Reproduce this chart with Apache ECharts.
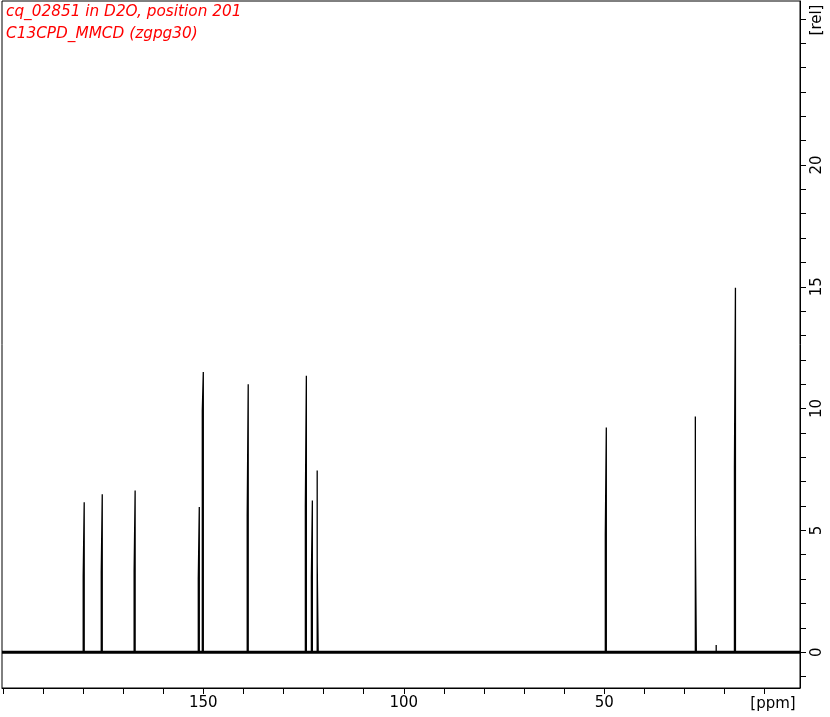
<!DOCTYPE html>
<html>
<head>
<meta charset="utf-8">
<script src="https://cdn.jsdelivr.net/npm/echarts@6/dist/echarts.min.js"></script>
<style>html,body{margin:0;padding:0;background:#fff;}#c{width:830px;height:717px;}</style>
</head>
<body>
<div id="c"></div>
<script>
// ---- data ----
const titleLines = ['cq_02851 in D2O, position 201', 'C13CPD_MMCD (zgpg30)'];
const peakPpm        = [179.7, 175.2, 167.0, 151.0, 150.0, 138.8, 124.3, 122.8, 121.6, 49.5, 27.3, 22.1, 17.3];
const peakHeight     = [6.15, 6.48, 6.64, 5.96, 11.5, 11.0, 11.35, 6.23, 7.46, 9.22, 9.67, 0.29, 14.96];
const shoulderHeight = [3.1, 3.3, 3.34, 3.0, 9.9, 5.6, 5.96, 3.07, 3.7, 4.8, 5.04, 0, 7.62];
const shoulderSide   = [1, 1, 1, 1, 1, 1, 1, 1, -1, 1, -1, 0, 1]; // 1: shoulder on high-ppm side, -1: low-ppm side
const xTickValues  = [10, 20, 30, 40, 50, 60, 70, 80, 90, 100, 110, 120, 130, 140, 150, 160, 170, 180, 190, 200];
const xLabelValues = [50, 100, 150];
const yTickValues  = [-1, 0, 1, 2, 3, 4, 5, 6, 7, 8, 9, 10, 11, 12, 13, 14, 15, 16, 17, 18, 19, 20, 21, 22, 23, 24, 25, 26];
const yLabelValues = [0, 5, 10, 15, 20];
const ppmRange = [1.2, 200.2];
const relRange = [-1.47, 26.73];

// ---- build spectrum line ----
const d = 0.25;
const spectrum = [[ppmRange[1], 0]];
peakPpm.forEach((p, i) => {
  const h = peakHeight[i], s = shoulderHeight[i], side = shoulderSide[i];
  if (side === 1) {
    spectrum.push([p + d, 0], [p + d, s], [p, s], [p, h], [p, 0]);
  } else if (side === -1) {
    spectrum.push([p, 0], [p, h], [p, s], [p - d, s], [p - d, 0]);
  } else {
    spectrum.push([p, 0], [p, h], [p, 0]);
  }
});
spectrum.push([ppmRange[0], 0]);

const FONT = 'DejaVu Sans';
const chart = echarts.init(document.getElementById('c'), null, {renderer: 'canvas'});
chart.setOption({
  animation: false,
  backgroundColor: '#fff',
  grid: {left: 2, right: 30, top: 1, bottom: 29, show: true, borderColor: '#000', borderWidth: 1, backgroundColor: 'transparent'},
  xAxis: {
    type: 'value', inverse: true, min: ppmRange[0], max: ppmRange[1], position: 'bottom',
    axisLine: {show: true, onZero: false, lineStyle: {color: '#000', width: 1}},
    axisTick: {show: true, inside: false, length: 6, customValues: xTickValues, lineStyle: {color: '#000'}},
    axisLabel: {show: true, customValues: xLabelValues, margin: 8, color: '#000', fontFamily: FONT, fontSize: 15},
    splitLine: {show: false}
  },
  yAxis: {
    type: 'value', min: relRange[0], max: relRange[1], position: 'right',
    axisLine: {show: true, onZero: false, lineStyle: {color: '#000', width: 1}},
    axisTick: {show: true, inside: false, length: 6, customValues: yTickValues, lineStyle: {color: '#000'}},
    axisLabel: {show: true, customValues: yLabelValues, rotate: 90, margin: 10, color: '#000', fontFamily: FONT, fontSize: 15},
    splitLine: {show: false}
  },
  series: [
    {type: 'line', data: [[ppmRange[1], 0], [ppmRange[0], 0]], showSymbol: false, silent: true,
     lineStyle: {color: '#000', width: 3}, z: 2},
    {type: 'line', data: spectrum, showSymbol: false, silent: true,
     lineStyle: {color: '#000', width: 1.3}, z: 3}
  ],
  graphic: [
    {type: 'text', left: 6, top: 5, style: {text: titleLines[0], fill: '#ff0000', font: 'italic 15.3px "DejaVu Sans"'}},
    {type: 'text', left: 6, top: 27, style: {text: titleLines[1], fill: '#ff0000', font: 'italic 15.3px "DejaVu Sans"'}},
    {type: 'text', x: 773, y: 704, style: {text: '[ppm]', fill: '#000', font: '15px "DejaVu Sans"', align: 'center', verticalAlign: 'middle'}},
    {type: 'text', x: 817, y: 20, rotation: Math.PI / 2, style: {text: '[rel]', fill: '#000', font: '15px "DejaVu Sans"', align: 'center', verticalAlign: 'middle'}}
  ]
});
</script>
</body>
</html>
